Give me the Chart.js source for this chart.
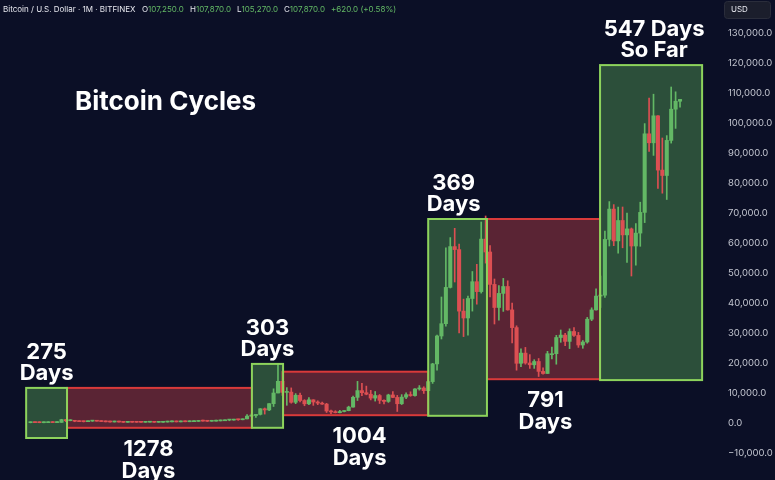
<!DOCTYPE html>
<html>
<head>
<meta charset="utf-8">
<script src="https://cdn.jsdelivr.net/npm/chart.js@4.4.1/dist/chart.umd.min.js"></script>
<style>
  html, body { margin: 0; padding: 0; background: #0b0f26; }
  canvas { display: block; }
</style>
</head>
<body>
<canvas id="btcChart" width="775" height="480"></canvas>
<script>
// monthly BTC/USD candles, Apr 2013 .. Jul 2025 (month index 0 = Jan 2013)
const firstMonthIndex = 3;

const opens = [
  104, 139, 129, 97, 106, 135, 133, 204, 1130,
  754, 830, 570, 457, 447, 627, 640, 586, 480, 387, 338, 378,
  320, 218, 255, 244, 236, 230, 263, 283, 230, 236, 314, 378,
  430, 368, 436, 416, 448, 531, 673, 624, 573, 609, 700, 742,
  966, 970, 1190, 1080, 1370, 2300, 2480, 2870, 4740, 4350, 6450, 10000,
  13900, 10200, 10300, 6900, 9250, 7500, 6390, 7730, 7000, 6620, 6300, 4000,
  3700, 3440, 3820, 4100, 5300, 8550, 10800, 10100, 9600, 8300, 9150, 7550,
  7200, 9350, 8530, 6420, 8630, 9450, 9140, 11350, 11650, 10780, 13800, 19700,
  29000, 33100, 45200, 58800, 57800, 37300, 35000, 41500, 47100, 43800, 61300, 57000,
  46200, 38500, 43200, 45500, 37700, 31800, 19900, 23300, 20000, 19400, 20500, 17200,
  16500, 23100, 23100, 28500, 29300, 27200, 30500, 29200, 26000, 27000, 34600, 37700,
  42300, 42600, 61200, 71300, 60700, 67500, 62700, 64700, 59000, 63300, 70200, 96400,
  93400, 102400, 84300, 82500, 94200, 104600, 107250
];
const highs = [
  266, 140, 130, 112, 136, 145, 213, 1240, 1160,
  1000, 880, 700, 540, 630, 680, 660, 600, 490, 420, 460, 380,
  320, 268, 300, 260, 248, 268, 317, 285, 242, 330, 502, 470,
  462, 445, 440, 470, 540, 780, 700, 626, 615, 740, 750, 975,
  1150, 1200, 1300, 1380, 2800, 3000, 2920, 4800, 5000, 6470, 11400, 19800,
  17200, 11800, 11700, 9800, 10000, 7780, 8500, 7760, 7400, 7000, 6560, 4300,
  4100, 4200, 4120, 5600, 9000, 13880, 13200, 12300, 10900, 10500, 9500, 7750,
  9600, 10500, 9200, 9450, 10070, 10400, 11450, 12480, 12080, 14100, 19900, 29300,
  42000, 58400, 61800, 64900, 59600, 41300, 42300, 50500, 52900, 67000, 69000, 59100,
  48000, 45800, 48200, 47400, 40000, 32400, 24700, 25200, 22800, 21100, 21500, 18400,
  23900, 25300, 29200, 31000, 29900, 31400, 31800, 30200, 27500, 35200, 38400, 44700,
  49000, 64000, 73800, 72800, 72000, 72000, 70000, 65000, 66500, 73600, 99800, 108300,
  109600, 102500, 95000, 95800, 112000, 110400, 107870
];
const lows = [
  50, 85, 88, 65, 101, 118, 109, 199, 410,
  740, 420, 440, 340, 420, 540, 570, 440, 365, 275, 312, 300,
  152, 210, 235, 215, 226, 218, 252, 198, 224, 235, 300, 350,
  350, 366, 395, 414, 436, 525, 600, 480, 570, 605, 680, 740,
  750, 925, 890, 1060, 1360, 2100, 1840, 2670, 2970, 4100, 5500, 10000,
  9200, 5900, 6600, 6450, 7050, 5750, 6100, 5880, 6100, 6200, 3500, 3150,
  3350, 3380, 3700, 4050, 5300, 7500, 9100, 9400, 7700, 7300, 6500, 6400,
  6870, 8450, 3850, 6150, 8100, 8900, 8950, 10950, 9850, 10400, 13200, 17600,
  28000, 32300, 45000, 47000, 30000, 28800, 29300, 37300, 39600, 43300, 53300, 42000,
  33000, 34300, 37200, 37600, 26700, 17600, 18800, 19600, 18200, 18200, 15500, 16300,
  16500, 21400, 19600, 26900, 25800, 24800, 28900, 25200, 24900, 26600, 34100, 37600,
  38500, 41900, 59000, 59100, 56600, 58400, 53500, 49000, 52600, 58900, 66800, 90500,
  89200, 78200, 76600, 74500, 93300, 98200, 105270
];
const closes = [
  139, 129, 97, 106, 135, 133, 204, 1130, 754,
  830, 570, 457, 447, 627, 640, 586, 480, 387, 338, 378, 320,
  218, 255, 244, 236, 230, 263, 283, 230, 236, 314, 378, 430,
  368, 436, 416, 448, 531, 673, 624, 573, 609, 700, 742, 966,
  970, 1190, 1080, 1370, 2300, 2480, 2870, 4740, 4350, 6450, 10000, 13900,
  10200, 10300, 6900, 9250, 7500, 6390, 7730, 7000, 6620, 6300, 4000, 3700,
  3440, 3820, 4100, 5300, 8550, 10800, 10100, 9600, 8300, 9150, 7550, 7200,
  9350, 8530, 6420, 8630, 9450, 9140, 11350, 11650, 10780, 13800, 19700, 29000,
  33100, 45200, 58800, 57800, 37300, 35000, 41500, 47100, 43800, 61300, 57000, 46200,
  38500, 43200, 45500, 37700, 31800, 19900, 23300, 20000, 19400, 20500, 17200, 16500,
  23100, 23100, 28500, 29300, 27200, 30500, 29200, 26000, 27000, 34600, 37700, 42300,
  42600, 61200, 71300, 60700, 67500, 62700, 64700, 59000, 63300, 70200, 96400, 93400,
  102400, 84300, 82500, 94200, 104600, 107250, 107870
];

// cycle boxes (x in month index, y in USD)
const boxStart  = [2.0, 11.25, 53.1, 60.15, 93.0, 106.3, 131.9];
const boxEnd    = [11.25, 53.1, 60.15, 93.0, 106.3, 131.9, 155.0];
const boxTop    = [11700, 11700, 19700, 17100, 68000, 68000, 119300];
const boxBottom = [-5000, -1600, -1600, 2600, 2400, 14600, 14300];
const boxBull   = [true, false, true, false, true, false, true];
const boxLabels = [
  ['275', 'Days'], ['1278', 'Days'], ['303', 'Days'], ['1004', 'Days'],
  ['369', 'Days'], ['791', 'Days'], ['547 Days', 'So Far']
];
const labelShift = [0, -11, 0, 4, -4, 2, 3]; // px nudges

const yTickValues = [-10000, 0, 10000, 20000, 30000, 40000, 50000, 60000, 70000,
  80000, 90000, 100000, 110000, 120000, 130000];
const yMin = -19000, yMax = 141000;

const GREEN = '#63b865';
const RED = '#dc4f52';
const GREEN_FILL = '#2c4f3a';
const RED_FILL = '#5a2434';
const GREEN_LINE = '#8dd35c';
const RED_LINE = '#d93a3a';
const FONT = 'Inter, "Noto Sans", sans-serif';

const xs = opens.map((_, i) => firstMonthIndex + i);
const candleColor = c => closes[c.dataIndex] >= opens[c.dataIndex] ? GREEN : RED;

const fmt = v => (v < 0 ? '\u2212' : '') + Math.abs(v).toLocaleString('en-US') + '.0';

const cyclePlugin = {
  id: 'cycles',
  beforeDatasetsDraw(chart) {
    const { ctx, scales: { x, y } } = chart;
    ctx.save();
    boxStart.forEach((s, i) => {
      const x0 = x.getPixelForValue(s), x1 = x.getPixelForValue(boxEnd[i]);
      const y0 = y.getPixelForValue(boxTop[i]), y1 = y.getPixelForValue(boxBottom[i]);
      ctx.fillStyle = boxBull[i] ? GREEN_FILL : RED_FILL;
      ctx.fillRect(x0, y0, x1 - x0, y1 - y0);
    });
    ctx.restore();
  },
  afterDatasetsDraw(chart) {
    const { ctx, scales: { x, y } } = chart;
    ctx.save();
    ctx.lineWidth = 2;
    // red outlines first so green ones sit on top of shared edges
    [false, true].forEach(bull => {
      boxStart.forEach((s, i) => {
        if (boxBull[i] !== bull) return;
        const x0 = x.getPixelForValue(s), x1 = x.getPixelForValue(boxEnd[i]);
        const y0 = y.getPixelForValue(boxTop[i]), y1 = y.getPixelForValue(boxBottom[i]);
        ctx.strokeStyle = bull ? GREEN_LINE : RED_LINE;
        ctx.strokeRect(x0, y0, x1 - x0, y1 - y0);
      });
    });
    // day counts
    ctx.fillStyle = '#ffffff';
    ctx.font = '700 22px ' + FONT;
    ctx.textAlign = 'center';
    ctx.textBaseline = 'alphabetic';
    boxLabels.forEach((lines, i) => {
      const cx = (x.getPixelForValue(boxStart[i]) + x.getPixelForValue(boxEnd[i])) / 2 + labelShift[i];
      if (boxBull[i]) {
        const top = y.getPixelForValue(boxTop[i]);
        ctx.fillText(lines[0], cx, top - 29);
        ctx.fillText(lines[1], cx, top - 8);
      } else {
        const bottom = y.getPixelForValue(boxBottom[i]);
        ctx.fillText(lines[0], cx, bottom + 28);
        ctx.fillText(lines[1], cx, bottom + 50);
      }
    });
    // title
    ctx.textAlign = 'left';
    ctx.font = '700 26px ' + FONT;
    ctx.fillText('Bitcoin Cycles', 75, 110);
    ctx.restore();
  },
  afterDraw(chart) {
    const { ctx } = chart;
    const n = opens.length - 1;
    const chg = closes[n] - opens[n];
    const pct = (chg / opens[n] * 100).toFixed(2);
    ctx.save();
    ctx.font = '8px ' + FONT;
    ctx.textBaseline = 'middle';
    ctx.fillStyle = '#e6e7ee';
    ctx.fillText('Bitcoin / U.S. Dollar \u00b7 1M \u00b7 BITFINEX', 3, 10);
    const parts = [['O', opens[n], 142], ['H', highs[n], 190], ['L', lows[n], 237], ['C', closes[n], 284]];
    parts.forEach(([k, v, px]) => {
      ctx.fillStyle = '#e6e7ee';
      ctx.fillText(k, px, 10);
      ctx.fillStyle = GREEN;
      ctx.fillText(fmt(v), px + ctx.measureText(k).width, 10);
    });
    ctx.fillStyle = GREEN;
    ctx.fillText((chg >= 0 ? '+' : '') + fmt(chg) + ' (' + (chg >= 0 ? '+' : '') + pct + '%)', 331, 10);
    // currency badge
    ctx.fillStyle = '#1b1e2c';
    ctx.strokeStyle = '#2a2d3b';
    ctx.lineWidth = 1;
    ctx.beginPath();
    ctx.roundRect(724.5, 1.5, 46, 17, 3);
    ctx.fill();
    ctx.stroke();
    ctx.fillStyle = '#e6e7ee';
    ctx.fillText('USD', 731, 10);
    ctx.restore();
  }
};

new Chart(document.getElementById('btcChart'), {
  type: 'bar',
  data: {
    datasets: [
      {
        label: 'body',
        data: xs.map((m, i) => ({ x: m, y: [opens[i], closes[i]] })),
        backgroundColor: candleColor,
        barThickness: 3.4,
        minBarLength: 1,
        grouped: false,
        borderWidth: 0
      },
      {
        label: 'wick',
        data: xs.map((m, i) => ({ x: m, y: [lows[i], highs[i]] })),
        backgroundColor: candleColor,
        barThickness: 1,
        minBarLength: 1,
        grouped: false,
        borderWidth: 0
      }
    ]
  },
  options: {
    responsive: false,
    animation: false,
    layout: { padding: 0, autoPadding: false },
    plugins: {
      legend: { display: false },
      tooltip: { enabled: false }
    },
    scales: {
      x: {
        type: 'linear',
        min: -3.92,
        max: 159.05,
        offset: false,
        display: false
      },
      y: {
        position: 'right',
        min: yMin,
        max: yMax,
        grid: { display: false, drawTicks: false },
        border: { display: false },
        afterFit: s => {
          s.width = 55;
          s.paddingTop = 0;
          s.paddingBottom = 0;
        },
        afterBuildTicks: s => { s.ticks = yTickValues.map(v => ({ value: v })); },
        ticks: {
          padding: 8,
          color: '#c3c6d0',
          font: { family: FONT, size: 9.5 },
          callback: v => fmt(v)
        }
      }
    }
  },
  plugins: [cyclePlugin]
});
</script>
</body>
</html>
